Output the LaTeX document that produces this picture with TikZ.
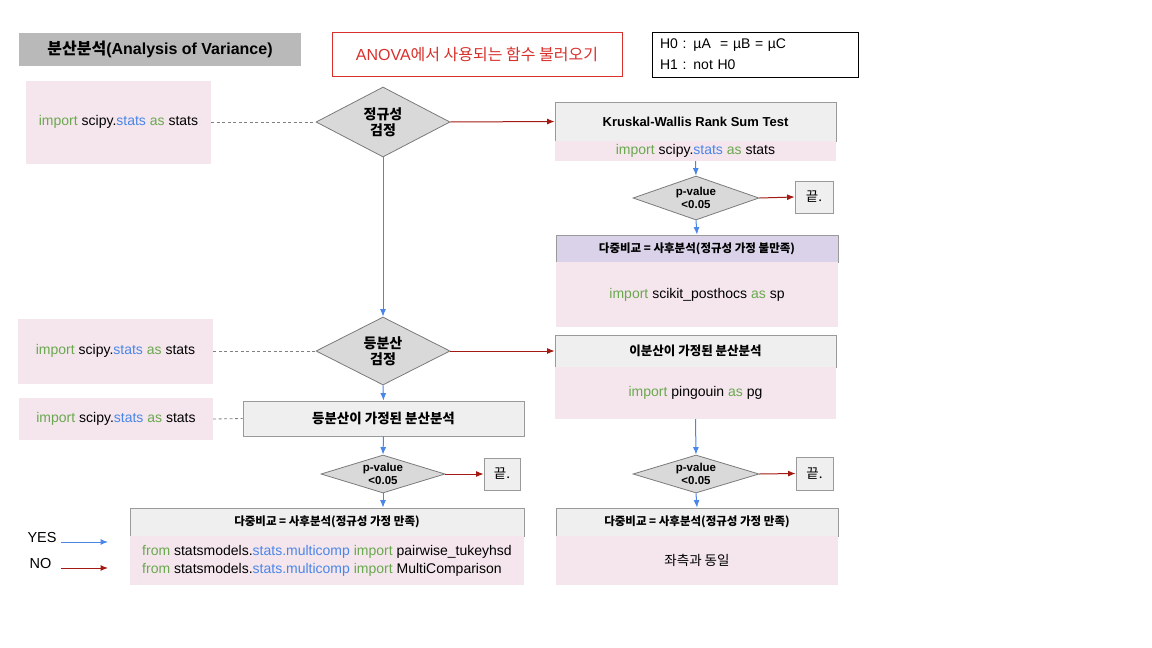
\documentclass[tikz,border=0pt]{standalone}
\usepackage{fontspec}
\setmainfont{Liberation Sans}
\newfontfamily\kr{Noto Sans CJK KR}
\usetikzlibrary{shapes.geometric,arrows.meta}

\definecolor{titlegray}{HTML}{B9B9B9}
\definecolor{anovared}{HTML}{D8302A}
\definecolor{pinkbg}{HTML}{F4E6EC}
\definecolor{boxgray}{HTML}{EFEFEF}
\definecolor{boxline}{HTML}{9A9A9A}
\definecolor{diagray}{HTML}{D9D9D9}
\definecolor{dialine}{HTML}{7A7A7A}
\definecolor{lavender}{HTML}{D9D2E9}
\definecolor{yesblue}{HTML}{4A86E8}
\definecolor{nored}{HTML}{A31A12}
\definecolor{pygreen}{HTML}{6AA84F}
\definecolor{pyblue}{HTML}{4A86E8}

\newcommand\fsz[2]{\fontsize{#1}{#2}\selectfont}
\newcommand\pykw[1]{\textcolor{pygreen}{#1}}
\newcommand\pymod[1]{\textcolor{pyblue}{#1}}
\newcommand\scipyline{\pykw{import} scipy.\pymod{stats} \pykw{as} stats}

\begin{document}
\begin{tikzpicture}[x=1pt, y=-1pt,
  pinkbox/.style={fill=pinkbg, inner sep=0pt, font=\fsz{14}{17}},
  graybox/.style={fill=boxgray, draw=boxline, line width=0.8pt, inner sep=0pt},
  headbox/.style={graybox, font=\kr\bfseries\fsz{11.5}{13}},
  decision/.style={diamond, fill=diagray, draw=dialine, line width=0.8pt, inner sep=0pt, align=center},
  bigdec/.style={decision, aspect=1.9, font=\kr\bfseries\fsz{14}{16}},
  pdec/.style={decision, aspect=3.3, font=\bfseries\fsz{11.5}{13.5}},
  endbox/.style={graybox, font=\kr\fsz{13.5}{15}},
  yes/.style={draw=yesblue, line width=1pt, -{Latex[length=7.5pt,width=6pt]}},
  no/.style={draw=nored, line width=1pt, -{Latex[length=7.5pt,width=6pt]}},
  link/.style={draw=gray, line width=0.8pt, dash pattern=on 3pt off 2.5pt}]
\useasboundingbox (0,0) rectangle (1152,648);

% top row
\node[fill=titlegray, minimum width=282, minimum height=33, font=\bfseries\fsz{16}{19}] (title) at (160,49.5) {{\kr 분산분석}(Analysis of Variance)};
\node[draw=anovared, line width=1pt, minimum width=290, minimum height=44, text=anovared, font=\fsz{16}{19}] (anova) at (477,54) {ANOVA{\kr 에서 사용되는 함수 불러오기}};
\node[draw, line width=0.8pt, minimum height=45, text width=190, inner xsep=8, align=left, font=\fsz{14}{21}] (hyp) at (755,54.5) {H0 : µA\ \ = µB = µC\\H1 : not H0};

% normality
\node[pinkbox, minimum width=185, minimum height=83] (imp1) at (118.5,122) {\scipyline};
\node[bigdec, minimum width=134, minimum height=70] (d1) at (383,122) {정규성\\검정};
\node[graybox, minimum width=281, minimum height=39, font=\bfseries\fsz{13}{15}] (kw) at (695.5,121.5) {Kruskal-Wallis Rank Sum Test};
\node[pinkbox, minimum width=281, minimum height=20] (kwimp) at (695.5,151) {\scipyline};
\node[pdec, minimum width=126, minimum height=44] (pv1) at (696,198) {p-value\\<0.05};
\node[endbox, minimum width=38, minimum height=32] (end1) at (814,197) {끝.};
\node[headbox, fill=lavender, minimum width=282, minimum height=27] (ph1) at (697,248.5) {다중비교 = 사후분석(정규성 가정 불만족)};
\node[pinkbox, minimum width=282, minimum height=65] (ph1imp) at (697,294.5) {\pykw{import} scikit\_posthocs \pykw{as} sp};

% equal variance
\node[pinkbox, minimum width=195, minimum height=65] (imp2) at (115.5,351) {\scipyline};
\node[bigdec, minimum width=134, minimum height=68] (d2) at (383,351) {등분산\\검정};
\node[graybox, minimum width=281, minimum height=32, font=\kr\bfseries\fsz{12.5}{14}] (hetero) at (695.5,351) {이분산이 가정된 분산분석};
\node[pinkbox, minimum width=281, minimum height=52] (heteroimp) at (695.5,393) {\pykw{import} pingouin \pykw{as} pg};
\node[pdec, minimum width=126, minimum height=38] (pv3) at (696,474) {p-value\\<0.05};
\node[endbox, minimum width=37, minimum height=33] (end3) at (814.5,473.5) {끝.};
\node[headbox, minimum width=282, minimum height=28] (ph3) at (697,522) {다중비교 = 사후분석(정규성 가정 만족)};
\node[pinkbox, minimum width=282, minimum height=49, font=\kr\fsz{13.5}{15}] (ph3imp) at (697,560.5) {좌측과 동일};

\node[pinkbox, minimum width=194, minimum height=42] (imp3) at (116,419) {\scipyline};
\node[graybox, minimum width=281, minimum height=35, font=\kr\bfseries\fsz{13.5}{15}] (homo) at (383.5,418.5) {등분산이 가정된 분산분석};
\node[pdec, minimum width=124, minimum height=38] (pv2) at (383,474) {p-value\\<0.05};
\node[endbox, minimum width=36, minimum height=32] (end2) at (502,474) {끝.};
\node[headbox, minimum width=394, minimum height=28] (ph2) at (327,522) {다중비교 = 사후분석(정규성 가정 만족)};
\node[pinkbox, minimum width=394, minimum height=49, align=left, font=\fsz{14}{18}] (ph2imp) at (327,560.5)
  {\pykw{from} statsmodels.\pymod{stats.multicomp} \pykw{import} pairwise\_tukeyhsd\\
   \pykw{from} statsmodels.\pymod{stats.multicomp} \pykw{import} MultiComparison};

% legend
\node[anchor=west, font=\fsz{14.5}{17}] (yeslbl) at (24,538) {YES};
\node[anchor=west, font=\fsz{14.5}{17}] (nolbl) at (26,564) {NO};
\coordinate (yesa) at (61,542);
\coordinate (yesb) at (108,542);
\coordinate (noa) at (61,568);
\coordinate (nob) at (108,568);
\draw[yes] (yesa) -- (yesb);
\draw[no] (noa) -- (nob);

% connectors
\draw[link] (imp1.east) -- (d1.west);
\draw[link] (imp2.east) -- (d2.west);
\draw[link] (imp3.east) -- (homo.west);
\draw[no] (d1.east) -- (kw.west);
\draw[no] (d2.east) -- (hetero.west);
\draw[no] (pv1.east) -- (end1.west);
\draw[no] (pv2.east) -- (end2.west);
\draw[no] (pv3.east) -- (end3.west);
\draw[yes] (d1.south) -- (d2.north);
\draw[yes] (d2.south) -- (homo.north);
\draw[yes] (homo.south) -- (pv2.north);
\draw[yes] (pv2.south) -- (pv2.south |- ph2.north);
\draw[yes] (kwimp.south) -- (pv1.north);
\draw[yes] (pv1.south) -- (ph1.north);
\draw[yes] (heteroimp.south) -- (pv3.north);
\draw[yes] (pv3.south) -- (ph3.north);
\end{tikzpicture}
\end{document}
